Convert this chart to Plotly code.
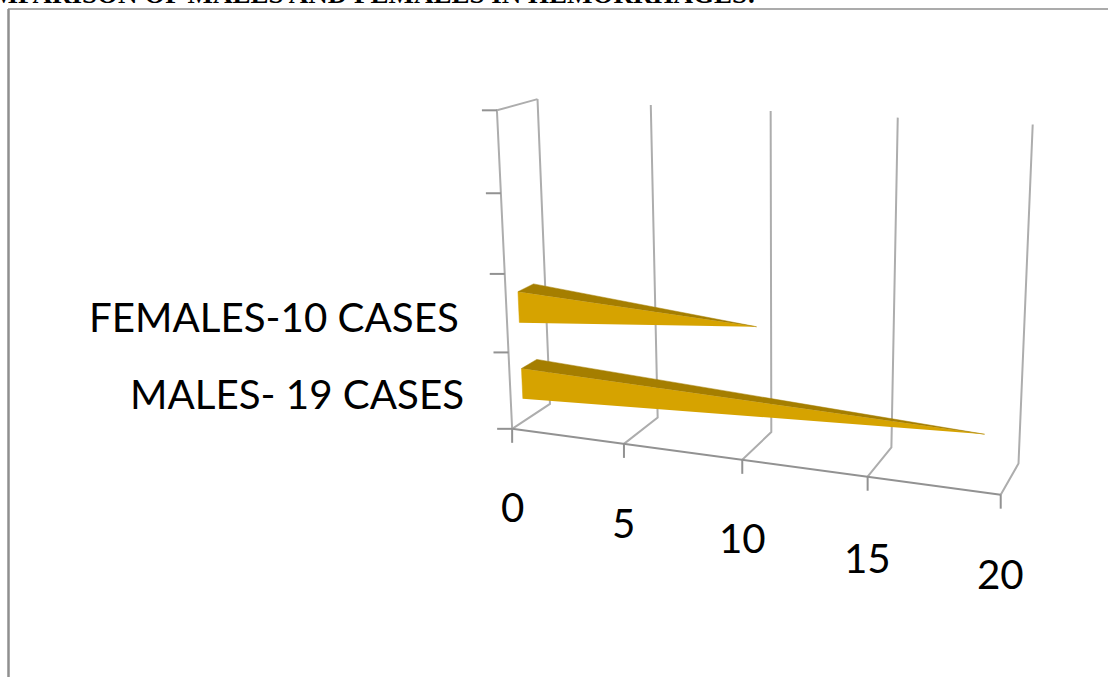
import numpy as np
import plotly.graph_objects as go

# Chart data
categories = ["MALES- 19 CASES", "FEMALES-10 CASES"]
case_counts = [19, 10]
value_ticks = [0, 5, 10, 15, 20]
category_slots = [0, 1, 2, 3, 4]
title_text = "COMPARISON OF MALES AND FEMALES IN HEMORRHAGES:"

WIDTH, HEIGHT = 1108, 677
GRID = "#adadad"
AXIS = "#929292"
FRONT_FACE = "#d6a300"
TOP_FACE = "#a57e00"
FRAME = "#8f8f8f"
LABEL_FONT = "Lato"

# Perspective box: (value, depth, slot) corners and where they land on the page
BOX_CORNERS = [
    ((0, 0, 0), (512.3, 429.0)),
    ((20, 0, 0), (1000.3, 494.3)),
    ((0, 1, 0), (549.3, 403.3)),
    ((20, 1, 0), (1018.3, 464.3)),
    ((0, 0, 4), (496.7, 110.0)),
    ((0, 1, 4), (537.7, 100.0)),
    ((20, 1, 4), (1032.7, 124.3)),
    ((10, 1, 4), (770.7, 110.7)),
    ((10, 0, 0), (742.7, 460.3)),
    ((10, 1, 0), (772.0, 431.7)),
]


def solve_camera(pairs):
    rows = []
    for (X, Y, Z), (u, v) in pairs:
        rows.append([X, Y, Z, 1, 0, 0, 0, 0, -u * X, -u * Y, -u * Z, -u])
        rows.append([0, 0, 0, 0, X, Y, Z, 1, -v * X, -v * Y, -v * Z, -v])
    return np.linalg.svd(np.array(rows, float))[2][-1].reshape(3, 4)


CAMERA = solve_camera(BOX_CORNERS)


def project(value, depth, slot):
    p = CAMERA @ np.array([value, depth, slot, 1.0])
    return p[0] / p[2], p[1] / p[2]


fig = go.Figure()


def polyline(points, color, width):
    xs, ys = zip(*[project(*p) for p in points])
    fig.add_trace(go.Scatter(x=xs, y=ys, mode="lines", hoverinfo="skip",
                             line=dict(color=color, width=width)))


def face(points, color):
    xs, ys = zip(*[project(*p) for p in points])
    fig.add_trace(go.Scatter(x=xs, y=ys, mode="lines", fill="toself", fillcolor=color,
                             hoverinfo="skip", line=dict(color=color, width=0.5)))


top_slot = category_slots[-1]

# Walls and floor: each gridline runs across the floor and up the back wall
for tick in value_ticks:
    polyline([(tick, 0, 0), (tick, 1, 0), (tick, 1, top_slot)], GRID, 2)
polyline([(0, 0, 0), (0, 0, top_slot), (0, 1, top_slot)], GRID, 2)
polyline([(value_ticks[0], 0, 0), (value_ticks[-1], 0, 0)], AXIS, 2)

# Tick marks on the value axis (downward) and the category axis (leftward)
for tick in value_ticks:
    x, y = project(tick, 0, 0)
    fig.add_shape(type="line", x0=x, x1=x, y0=y, y1=y + 14, line=dict(color=AXIS, width=2))
for slot in category_slots:
    x, y = project(0, 0, slot)
    fig.add_shape(type="line", x0=x - 15, x1=x, y0=y, y1=y, line=dict(color=AXIS, width=2))

# Pyramids: square base at zero, tip at the case count
D0, D1, H0, H1 = 0.3, 0.7, 0.3, 0.7
for slot, count in enumerate(case_counts):
    tip = (count, (D0 + D1) / 2, slot + (H0 + H1) / 2)
    face([(0, D0, slot + H0), (0, D0, slot + H1), tip], FRONT_FACE)
    face([(0, D0, slot + H1), (0, D1, slot + H1), tip], TOP_FACE)


def label(x, y, text, anchor="center", size=40.3):
    fig.add_annotation(x=x, y=y, text=text, showarrow=False, xanchor=anchor, yanchor="middle",
                       font=dict(family=LABEL_FONT, size=size, color="#000000"))


# Category labels sit left of the front wall, value labels under the ticks
label(461, 316, categories[1], "right")
label(466, 393, categories[0], "right")
for tick, drop in zip(value_ticks, [78, 79, 78, 81, 79]):
    x, y = project(tick, 0, 0)
    label(x, y + drop, str(tick))

# Outer frame
fig.add_shape(type="line", x0=8.5, x1=8.5, y0=9, y1=HEIGHT, line=dict(color=FRAME, width=2.5))
fig.add_shape(type="line", x0=8, x1=WIDTH, y0=9, y1=9, line=dict(color=FRAME, width=1.5))

# Heading above the frame, cut by the page edge
fig.add_annotation(x=758, y=11.5, text="<b>%s</b>" % title_text, showarrow=False,
                   xanchor="right", yanchor="bottom",
                   font=dict(family="Liberation Serif", size=27, color="#000000"))

fig.update_layout(
    width=WIDTH, height=HEIGHT, showlegend=False,
    margin=dict(l=0, r=0, t=0, b=0),
    paper_bgcolor="#ffffff", plot_bgcolor="#ffffff",
    xaxis=dict(range=[0, WIDTH], visible=False, fixedrange=True),
    yaxis=dict(range=[HEIGHT, 0], visible=False, fixedrange=True),
)
fig.write_html("out.html", config={"displayModeBar": False})
